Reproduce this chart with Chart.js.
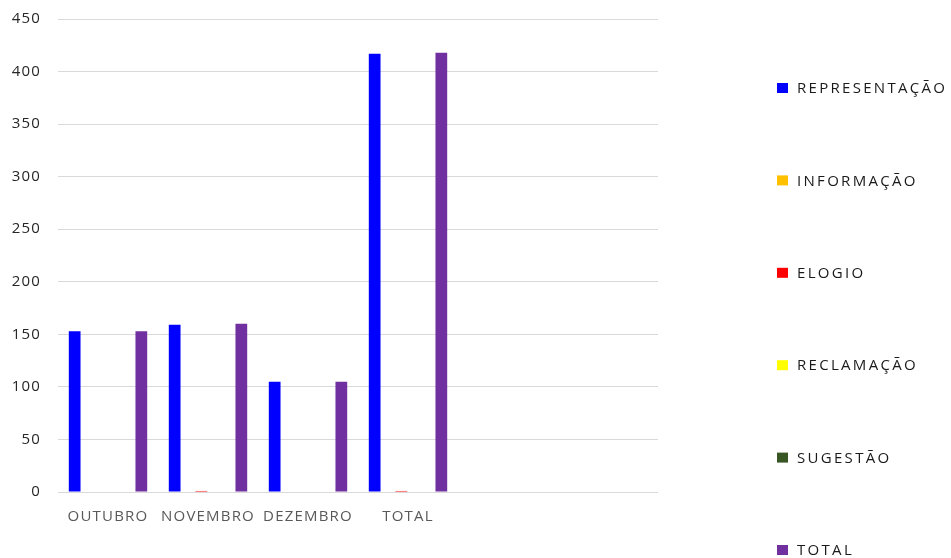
<!DOCTYPE html>
<html>
<head>
<meta charset="utf-8">
<script src="https://cdn.jsdelivr.net/npm/chart.js@4.4.0/dist/chart.umd.min.js"></script>
<style>
    body { margin: 0; background: #fff; }
    #wrap { width: 951px; height: 558px; position: relative; }
</style>
</head>
<body>
<div id="wrap"><canvas id="myChart"></canvas></div>
<script>
// data
const months = ['OUTUBRO', 'NOVEMBRO', 'DEZEMBRO', 'TOTAL', '', ''];
const representacao = [153, 159, 105, 417, null, null];
const informacao = [0, 0, 0, 0, null, null];
const elogio = [0, 1, 0, 1, null, null];
const reclamacao = [0, 0, 0, 0, null, null];
const sugestao = [0, 0, 0, 0, null, null];
const total = [153, 160, 105, 418, null, null];
const seriesNames = ['REPRESENTAÇÃO', 'INFORMAÇÃO', 'ELOGIO', 'RECLAMAÇÃO', 'SUGESTÃO', 'TOTAL'];
const seriesColors = ['#0000FF', '#FFC000', '#FF0000', '#FFFF00', '#375623', '#7030A0'];

const seriesData = [representacao, informacao, elogio, reclamacao, sugestao, total];

//Legend drawn on the right, one item every ~92px
const sideLegend = {
    id: 'sideLegend',
    beforeDraw(chart) {
        chart.ctx.letterSpacing = '1.2px';
    },
    afterDraw(chart) {
        const ctx = chart.ctx;
        ctx.save();
        ctx.letterSpacing = '2.3px';
        ctx.font = '15px "Open Sans"';
        ctx.textBaseline = 'middle';
        ctx.textAlign = 'left';
        chart.data.datasets.forEach((ds, i) => {
            let y = 88 + i * 92.4;
            ctx.fillStyle = ds.backgroundColor;
            ctx.fillRect(777, y - 5, 11, 10);
            ctx.fillStyle = '#1a1a1a';
            ctx.fillText(ds.label, 797, y + 1);
        });
        ctx.restore();
    }
};

new Chart($id('myChart'), {
    type: 'bar',
    data: {
        labels: months,
        datasets: seriesNames.map((name, i) => ({
            label: name,
            data: seriesData[i],
            backgroundColor: seriesColors[i],
            categoryPercentage: 0.8,
            barPercentage: 0.88
        }))
    },
    options: {
        responsive: true,
        maintainAspectRatio: false,
        animation: false,
        layout: {padding: {left: 0, right: 293, top: 19, bottom: 0}},
        plugins: {
            legend: {display: false},
            tooltip: {enabled: false}
        },
        scales: {
            x: {
                grid: {display: false},
                border: {display: false},
                ticks: {
                    color: '#595959',
                    font: {family: 'Open Sans', size: 15},
                    padding: 8,
                    maxRotation: 0,
                    autoSkip: false
                },
                afterFit: (s) => { s.height = 66; }
            },
            y: {
                min: 0,
                max: 450,
                grid: {color: '#d9d9d9', drawTicks: false},
                border: {display: false},
                ticks: {
                    stepSize: 50,
                    color: '#262626',
                    font: {family: 'Open Sans', size: 15},
                    padding: 17
                },
                afterFit: (s) => {
                    s.width = 58;
                    s.paddingTop = 0;
                    s.paddingBottom = 0;
                }
            }
        }
    },
    plugins: [sideLegend]
});

function $id(id) {
    return document.getElementById(id);
}
</script>
</body>
</html>
